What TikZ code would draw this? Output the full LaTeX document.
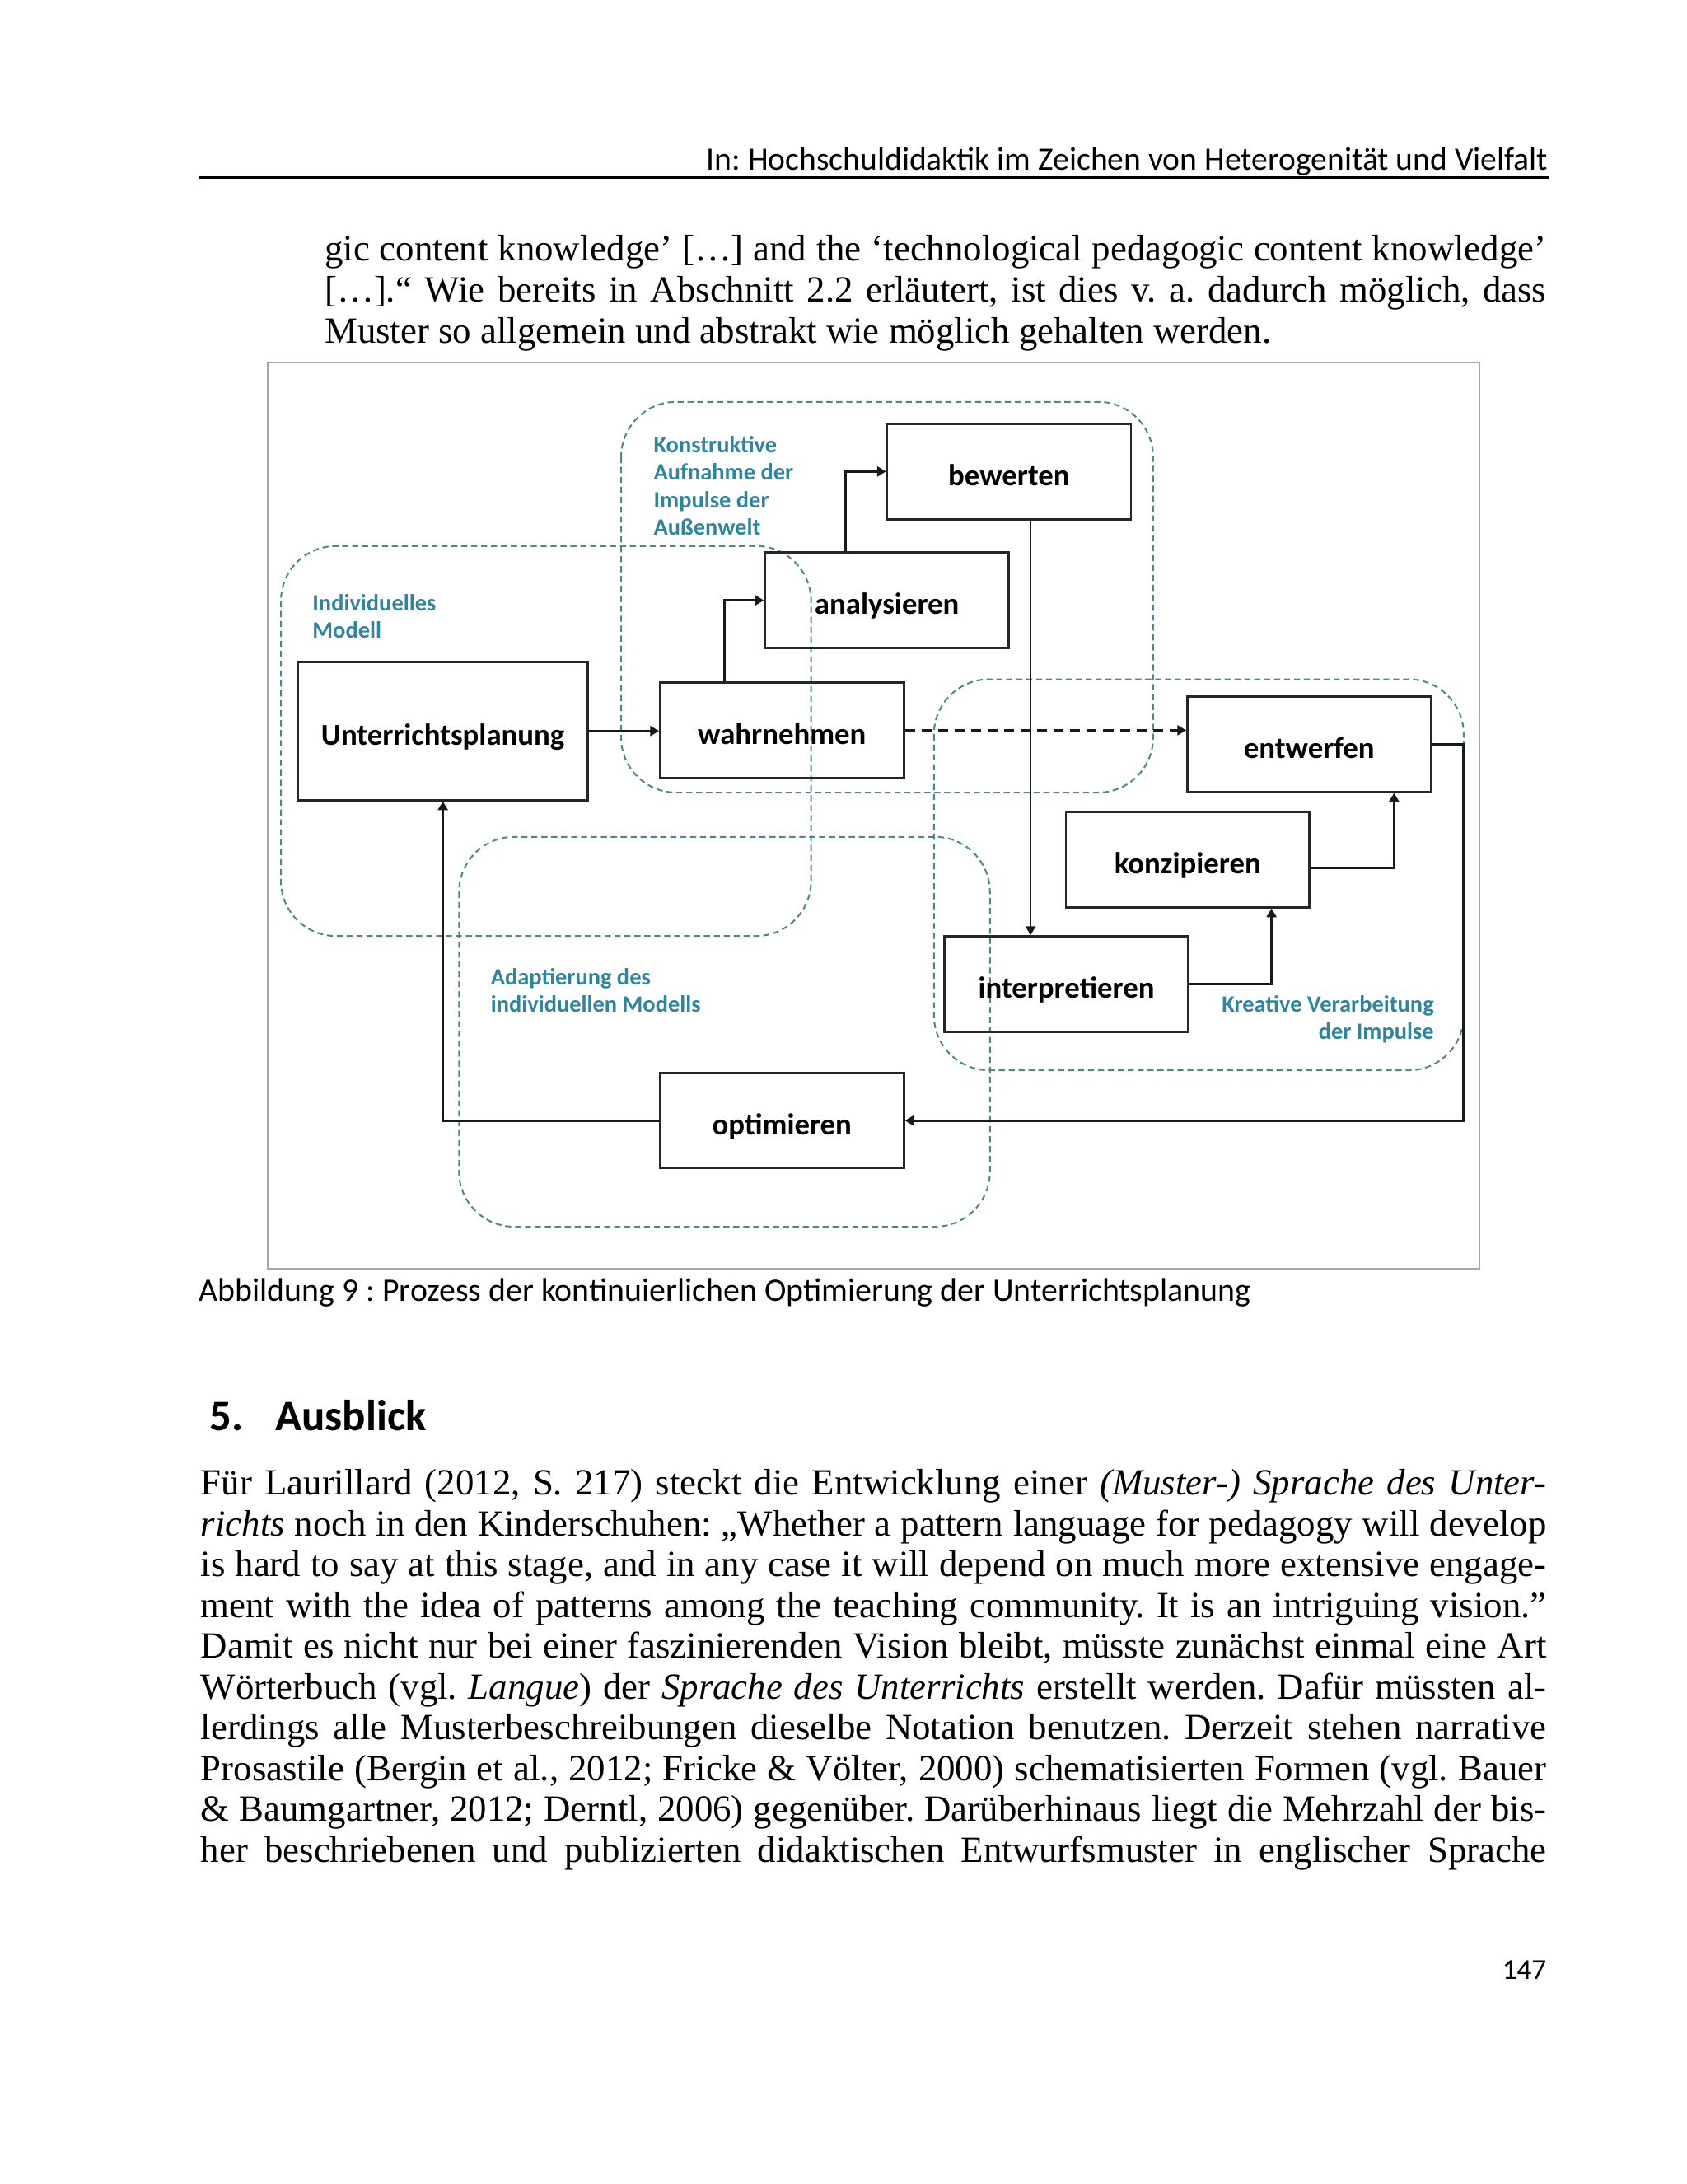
\documentclass[tikz,border=0pt]{standalone}
\usepackage{fontspec}
\setmainfont{Liberation Serif}
\newfontfamily\calfont{Carlito}
\usepackage{graphicx}
\usetikzlibrary{arrows.meta}
\definecolor{lblc}{RGB}{49,132,155}
\definecolor{regc}{RGB}{78,134,140}
\newdimen\uu \uu=0.505367pt
\newcommand\jline[2]{\makebox[#1][s]{#2}}
\frenchspacing
\begin{document}
\begin{tikzpicture}[x=0.505367pt, y=-0.505367pt,
  box/.style={draw=black!85, line width=0.8pt, inner sep=0pt,
    minimum width={175*\uu}, minimum height={68.5*\uu},
    font=\calfont\bfseries\fontsize{11}{13}\selectfont, text height=12pt, text depth=1.9pt},
  region/.style={draw=regc, line width=0.6pt, dash pattern=on 2.2pt off 1.4pt, rounded corners=20pt},
  lbl/.style={inner sep=0pt, text=lblc, font=\calfont\bfseries\fontsize{8.5}{10}\selectfont},
  conn/.style={draw=black!90, line width=0.9pt, -{Triangle[length=3.2pt,width=3.6pt]}},
  dconn/.style={conn, line width=1pt, dash pattern=on 3.6pt off 2.4pt},
  body/.style={inner sep=0pt, font=\fontsize{13.4}{15}\selectfont},
  sans/.style={inner sep=0pt, font=\calfont}
]
\useasboundingbox[fill=white] (0,0) rectangle (1211,1568);

% header
\node[sans, anchor=base east] (hdr) at (1112,122.2) {\resizebox{305.3pt}{!}{In: Hochschuldidaktik im Zeichen von Heterogenität und Vielfalt}};
\draw[line width=0.8pt] (143,127.5) -- (1112,127.5);

% top paragraph
\node[body, anchor=base west] (p1) at (232.8,187.3) {\jline{443.3pt}{gic content knowledge’ […] and the ‘technological pedagogic content knowledge’}};
\node[body, anchor=base west] (p2) at (232.8,216.9) {\jline{443.3pt}{[…].“ Wie bereits in Abschnitt 2.2 erläutert, ist dies v. a. dadurch möglich, dass}};
\node[body, anchor=base west] (p3) at (232.8,246.4) {Muster so allgemein und abstrakt wie möglich gehalten werden.};

% figure frame
\draw[gray!70, line width=0.6pt] (192,260) rectangle (1062,911);

% regions
\draw[region] (446,288.5) rectangle (828,569);
\draw[region] (201.7,392) rectangle (582.4,672);
\draw[region] (670.6,487.7) rectangle (1051,768.4);
\draw[region] (329.6,600.8) rectangle (710.8,880.7);

% region labels
\node[lbl, anchor=base west] (k1) at (469,325) {Konstruktive};
\node[lbl, anchor=base west] (k2) at (469,344.8) {Aufnahme der};
\node[lbl, anchor=base west] (k3) at (469,364.6) {Impulse der};
\node[lbl, anchor=base west] (k4) at (469,384.4) {Außenwelt};
\node[lbl, anchor=base west] (i1) at (224,438.5) {Individuelles};
\node[lbl, anchor=base west] (i2) at (224,458) {Modell};
\node[lbl, anchor=base west] (a1) at (352,707) {Adaptierung des};
\node[lbl, anchor=base west] (a2) at (352,726.5) {individuellen Modells};
\node[lbl, anchor=base east] (v1) at (1030,726.5) {Kreative Verarbeitung};
\node[lbl, anchor=base east] (v2) at (1030,746) {der Impulse};

% boxes
\node[box] (bew) at (724.5,338.5) {bewerten};
\node[box] (anal) at (636.8,431) {analysieren};
\node[box, minimum width={208*\uu}, minimum height={99.5*\uu}] (plan) at (318,524.8) {Unterrichtsplanung};
\node[box] (wahr) at (561.5,524.3) {wahrnehmen};
\node[box] (entw) at (940,534.3) {entwerfen};
\node[box] (konz) at (852.8,617.2) {konzipieren};
\node[box] (interp) at (765.7,706.4) {interpretieren};
\node[box] (opt) at (561.5,804.5) {optimieren};

% helper x positions
\coordinate (xa) at (520,0);
\coordinate (xb) at (607,0);
\coordinate (xc) at (740,0);
\coordinate (xd) at (913,0);
\coordinate (xe) at (1001,0);
\coordinate (xf) at (1051,0);

% connectors
\draw[conn] (plan.east) -- (plan.east -| wahr.west);
\draw[conn] (wahr.north -| xa) |- (anal.west);
\draw[conn] (anal.north -| xb) |- (bew.west);
\draw[conn, line width=0.7pt] (bew.south -| xc) -- (interp.north -| xc);
\draw[dconn] (wahr.east) -- (wahr.east -| entw.west);
\draw[conn] (interp.east) -| (konz.south -| xd);
\draw[conn] ([yshift=-2.9pt]konz.east) -| (entw.south -| xe);
\draw[conn] (entw.east) -- (entw.east -| xf) -- (xf |- opt.east) -- (opt.east);
\draw[conn] (opt.west) -| (plan.south);

% caption
\node[sans, anchor=base west] (cap) at (142.5,934) {\resizebox{381.6pt}{!}{Abbildung 9 : Prozess der kontinuierlichen Optimierung der Unterrichtsplanung}};

% heading
\node[sans, anchor=base west, font=\calfont\bfseries\fontsize{15.8}{18}\selectfont] (h5) at (150,1027) {5.};
\node[sans, anchor=base west, font=\calfont\bfseries\fontsize{15.8}{18}\selectfont] (h6) at (197.3,1027) {Ausblick};

% bottom paragraph
\node[body, anchor=base west] (b1) at (143.8,1073.5) {\jline{488.3pt}{Für Laurillard (2012, S. 217) steckt die Entwicklung einer \textit{(Muster-) Sprache des Unter-}}};
\node[body, anchor=base west] (b2) at (143.8,1102.75) {\jline{488.3pt}{\textit{richts} noch in den Kinderschuhen: „Whether a pattern language for pedagogy will develop}};
\node[body, anchor=base west] (b3) at (143.8,1132) {\jline{488.3pt}{is hard to say at this stage, and in any case it will depend on much more extensive engage-}};
\node[body, anchor=base west] (b4) at (143.8,1161.25) {\jline{488.3pt}{ment with the idea of patterns among the teaching community. It is an intriguing vision.”}};
\node[body, anchor=base west] (b5) at (143.8,1190.5) {\jline{488.3pt}{Damit es nicht nur bei einer faszinierenden Vision bleibt, müsste zunächst einmal eine Art}};
\node[body, anchor=base west] (b6) at (143.8,1219.75) {\jline{488.3pt}{Wörterbuch (vgl. \textit{Langue}) der \textit{Sprache des Unterrichts} erstellt werden. Dafür müssten al-}};
\node[body, anchor=base west] (b7) at (143.8,1249) {\jline{488.3pt}{lerdings alle Musterbeschreibungen dieselbe Notation benutzen. Derzeit stehen narrative}};
\node[body, anchor=base west] (b8) at (143.8,1278.25) {\jline{488.3pt}{Prosastile (Bergin et al., 2012; Fricke \& Völter, 2000) schematisierten Formen (vgl. Bauer}};
\node[body, anchor=base west] (b9) at (143.8,1307.5) {\jline{488.3pt}{\& Baumgartner, 2012; Derntl, 2006) gegenüber. Darüberhinaus liegt die Mehrzahl der bis-}};
\node[body, anchor=base west] (b10) at (143.8,1336.75) {\jline{488.3pt}{her beschriebenen und publizierten didaktischen Entwurfsmuster in englischer Sprache}};

% page number
\node[sans, anchor=base east, font=\calfont\fontsize{10.5}{12}\selectfont] (pg) at (1110.7,1421) {147};
\end{tikzpicture}
\end{document}
